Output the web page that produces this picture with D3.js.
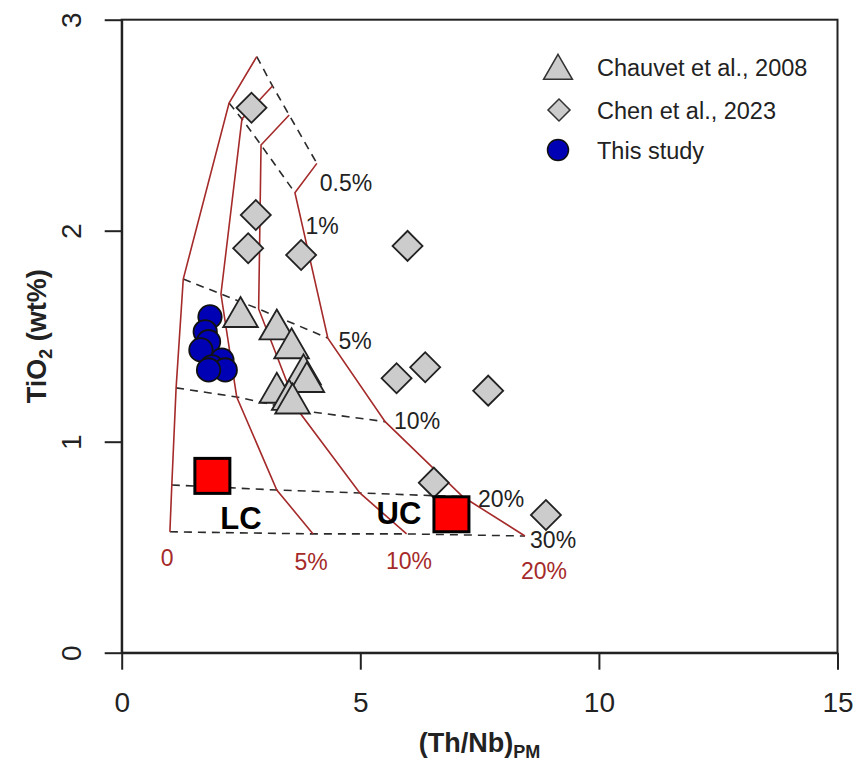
<!DOCTYPE html>
<html>
<head>
<meta charset="utf-8">
<script src="https://cdn.jsdelivr.net/npm/d3@7"></script>
<style>
  body { margin: 0; background: #fff; }
  svg { font-family: "Liberation Sans", Arial, sans-serif; }
</style>
</head>
<body>
<svg id="chart"></svg>
<script>
const width = 857;
const height = 763;

// Melting degrees (dashed lines) and crustal contamination (brown lines)
const meltLabels = ["0.5%", "1%", "5%", "10%", "20%", "30%"];
const contamLabels = ["0", "5%", "10%", "20%"];

// model grid, one array per contamination level, ordered by melting degree
const gridX0 = [2.83, 2.25, 1.29, 1.14, 1.05, 1.01];
const gridY0 = [2.825, 2.605, 1.771, 1.255, 0.795, 0.573];
const gridX5 = [3.16, 2.52, 2.08, 2.41, 3.25, 4.01];
const gridY5 = [2.686, 2.530, 1.700, 1.212, 0.771, 0.563];
const gridX10 = [3.51, 2.92, 2.87, 3.69, 4.99, 5.97];
const gridY10 = [2.548, 2.406, 1.629, 1.150, 0.757, 0.563];
const gridX20 = [4.09, 3.63, 4.32, 5.52, 7.15, 8.45];
const gridY20 = [2.319, 2.180, 1.491, 1.095, 0.739, 0.553];

// label anchors (data units)
const meltLabelX = [4.70, 4.20, 4.89, 6.19, 7.95, 9.04];
const meltLabelY = [2.226, 2.022, 1.477, 1.098, 0.728, 0.534];
const contamLabelX = [0.95, 3.97, 6.02, 8.85];
const contamLabelY = [0.449, 0.430, 0.435, 0.387];

// Chauvet et al., 2008
const chauvetX = [2.49, 3.25, 3.56, 3.81, 3.88, 3.25, 3.51, 3.58];
const chauvetY = [1.591, 1.532, 1.443, 1.319, 1.283, 1.232, 1.198, 1.181];

// Chen et al., 2023
const chenX = [2.72, 2.81, 2.65, 3.76, 5.99, 5.76, 6.36, 7.68, 6.54, 8.89];
const chenY = [2.583, 2.074, 1.917, 1.885, 1.928, 1.301, 1.353, 1.242, 0.806, 0.653];

// This study
const studyX = [1.85, 1.75, 1.82, 1.66, 2.10, 1.89, 2.17, 1.82];
const studyY = [1.592, 1.521, 1.474, 1.435, 1.387, 1.355, 1.340, 1.340];

// crust end-members
const crustNames = ["LC", "UC"];
const crustX = [1.90, 6.91];
const crustY = [0.838, 0.656];
const crustLabelX = [2.50, 5.81];
const crustLabelY = [0.638, 0.662];

const xTicks = [0, 5, 10, 15];
const yTicks = [0, 1, 2, 3];

const brown = "#a52a2a";

const svg = d3.select("#chart").attr("width", width).attr("height", height);

const x = d3.scaleLinear().domain([0, 15]).range([121.7, 837.5]);
const y = d3.scaleLinear().domain([0, 3]).range([652.7, 19.7]);

// grid as rows of points
const gridXs = [gridX0, gridX5, gridX10, gridX20];
const gridYs = [gridY0, gridY5, gridY10, gridY20];
const contamLines = gridXs.map((xs, i) => xs.map((v, j) => [v, gridYs[i][j]]));
const meltLines = meltLabels.map((_, j) => contamLines.map((row) => row[j]));

const line = d3.line().x((d) => x(d[0])).y((d) => y(d[1]));

// dashed melting-degree lines
svg.append("g")
  .selectAll("path")
  .data(meltLines)
  .enter()
  .append("path")
  .attr("d", line)
  .attr("fill", "none")
  .attr("stroke", "#2a2a2a")
  .attr("stroke-width", 1.6)
  .attr("stroke-dasharray", "8,6");

// brown contamination lines
svg.append("g")
  .selectAll("path")
  .data(contamLines)
  .enter()
  .append("path")
  .attr("d", line)
  .attr("fill", "none")
  .attr("stroke", brown)
  .attr("stroke-width", 1.6);

// labels on the grid
svg.append("g")
  .selectAll("text")
  .data(meltLabels)
  .enter()
  .append("text")
  .attr("x", (d, i) => x(meltLabelX[i]))
  .attr("y", (d, i) => y(meltLabelY[i]) + 8)
  .attr("text-anchor", "middle")
  .attr("font-size", 23)
  .attr("fill", "#222")
  .text((d) => d);

svg.append("g")
  .selectAll("text")
  .data(contamLabels)
  .enter()
  .append("text")
  .attr("x", (d, i) => x(contamLabelX[i]))
  .attr("y", (d, i) => y(contamLabelY[i]) + 8)
  .attr("text-anchor", "middle")
  .attr("font-size", 23)
  .attr("fill", brown)
  .text((d) => d);

// markers
const triangle = d3.symbol().type(d3.symbolTriangle).size(520);
const diamond = d3.symbol().type(d3.symbolSquare).size(450);

svg.append("g")
  .selectAll("path")
  .data(chenX)
  .enter()
  .append("path")
  .attr("d", diamond)
  .attr("transform", (d, i) => `translate(${x(d)},${y(chenY[i])}) rotate(45)`)
  .attr("fill", "#cccccc")
  .attr("stroke", "#222")
  .attr("stroke-width", 1.8);

svg.append("g")
  .selectAll("path")
  .data(chauvetX)
  .enter()
  .append("path")
  .attr("d", triangle)
  .attr("transform", (d, i) => `translate(${x(d)},${y(chauvetY[i])})`)
  .attr("fill", "#cccccc")
  .attr("stroke", "#222")
  .attr("stroke-width", 1.8);

svg.append("g")
  .selectAll("circle")
  .data(studyX)
  .enter()
  .append("circle")
  .attr("cx", (d) => x(d))
  .attr("cy", (d, i) => y(studyY[i]))
  .attr("r", 11.7)
  .attr("fill", "#0000b4")
  .attr("stroke", "#111")
  .attr("stroke-width", 1.8);

svg.append("g")
  .selectAll("rect")
  .data(crustX)
  .enter()
  .append("rect")
  .attr("x", (d) => x(d) - 17.5)
  .attr("y", (d, i) => y(crustY[i]) - 17.5)
  .attr("width", 35)
  .attr("height", 35)
  .attr("fill", "#ff0000")
  .attr("stroke", "#000")
  .attr("stroke-width", 3);

svg.append("g")
  .selectAll("text")
  .data(crustNames)
  .enter()
  .append("text")
  .attr("x", (d, i) => x(crustLabelX[i]))
  .attr("y", (d, i) => y(crustLabelY[i]) + 11)
  .attr("text-anchor", "middle")
  .attr("font-size", 31)
  .attr("font-weight", "bold")
  .attr("fill", "#000")
  .text((d) => d);

// frame
svg.append("rect")
  .attr("x", x(0))
  .attr("y", y(3))
  .attr("width", x(15) - x(0))
  .attr("height", y(0) - y(3))
  .attr("fill", "none")
  .attr("stroke", "#222")
  .attr("stroke-width", 2);

// axes
const xAxis = svg.append("g")
  .attr("transform", `translate(0,${y(0)})`)
  .call(d3.axisBottom(x).tickValues(xTicks).tickFormat(d3.format("d"))
    .tickSize(17).tickSizeOuter(0).tickPadding(22));
const yAxis = svg.append("g")
  .attr("transform", `translate(${x(0)},0)`)
  .call(d3.axisLeft(y).tickValues(yTicks).tickFormat(d3.format("d"))
    .tickSize(17).tickSizeOuter(0));

[xAxis, yAxis].forEach((g) => {
  g.select(".domain").attr("stroke", "#222").attr("stroke-width", 2);
  g.selectAll(".tick line").attr("stroke", "#222").attr("stroke-width", 2);
  g.selectAll(".tick text")
    .attr("font-size", 28)
    .attr("font-family", "Liberation Sans, Arial, sans-serif")
    .attr("fill", "#222");
});

yAxis.selectAll(".tick text")
  .attr("x", null)
  .attr("dy", null)
  .attr("text-anchor", "middle")
  .attr("transform", "translate(-41,0) rotate(-90)");

// axis titles
const xTitle = svg.append("text")
  .attr("x", (x(0) + x(15)) / 2)
  .attr("y", 752)
  .attr("text-anchor", "middle")
  .attr("font-size", 27)
  .attr("font-weight", "bold")
  .attr("fill", "#222");
xTitle.append("tspan").text("(Th/Nb)");
xTitle.append("tspan").attr("font-size", 18).attr("dy", 6).text("PM");

const yTitle = svg.append("text")
  .attr("transform", `translate(46,${(y(0) + y(3)) / 2}) rotate(-90)`)
  .attr("text-anchor", "middle")
  .attr("font-size", 27)
  .attr("font-weight", "bold")
  .attr("fill", "#222");
yTitle.append("tspan").text("TiO");
yTitle.append("tspan").attr("font-size", 18).attr("dy", 6).text("2");
yTitle.append("tspan").attr("dy", -6).text(" (wt%)");

// legend
const legendNames = ["Chauvet et al., 2008", "Chen et al., 2023", "This study"];
const legendY = [67, 110, 150];
const legend = svg.append("g");

legend.append("path")
  .attr("d", d3.symbol().type(d3.symbolTriangle).size(360))
  .attr("transform", `translate(558,${legendY[0] + 4})`)
  .attr("fill", "#cccccc")
  .attr("stroke", "#333")
  .attr("stroke-width", 1.5);
legend.append("path")
  .attr("d", d3.symbol().type(d3.symbolSquare).size(242))
  .attr("transform", `translate(559,${legendY[1]}) rotate(45)`)
  .attr("fill", "#cccccc")
  .attr("stroke", "#333")
  .attr("stroke-width", 1.5);
legend.append("circle")
  .attr("cx", 558)
  .attr("cy", legendY[2])
  .attr("r", 10.5)
  .attr("fill", "#0000b4")
  .attr("stroke", "#111")
  .attr("stroke-width", 1.5);

legend.selectAll("text")
  .data(legendNames)
  .enter()
  .append("text")
  .attr("x", 597)
  .attr("y", (d, i) => legendY[i] + 8.5)
  .attr("font-size", 23.5)
  .attr("fill", "#222")
  .text((d) => d);
</script>
</body>
</html>
